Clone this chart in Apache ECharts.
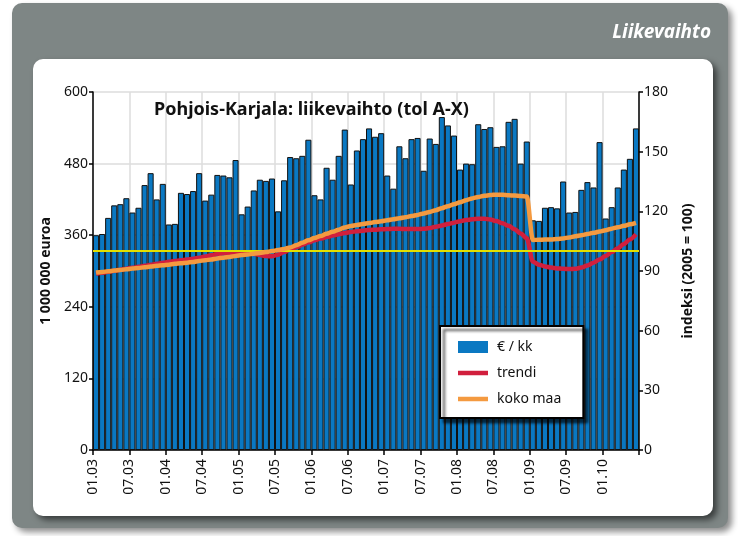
<!DOCTYPE html>
<html>
<head>
<meta charset="utf-8">
<script src="https://cdn.jsdelivr.net/npm/echarts@6/dist/echarts.min.js"></script>
<style>html,body{margin:0;padding:0;background:#fff;}#c{width:738px;height:536px;}</style>
</head>
<body>
<div id="c"></div>
<script>
// ---- data ----
const years = ['03','04','05','06','07','08','09','10'];
const monthNums = ['01','02','03','04','05','06','07','08','09','10','11','12'];
const categories = [];
years.forEach(y => monthNums.forEach(m => categories.push(m + '.' + y)));
categories.length = 90; // 01.03 ... 06.10

const tickLabels = ['01.03','07.03','01.04','07.04','01.05','07.05','01.06','07.06','01.07','07.07','01.08','07.08','01.09','07.09','01.10'];

const euroKk = [
  360, 362, 389, 410, 412, 422, 398, 406, 444, 464, 420, 446,
  378, 379, 431, 429, 434, 464, 418, 428, 461, 460, 457, 486,
  395, 408, 435, 453, 451, 455, 400, 452, 491, 489, 493, 520,
  427, 420, 473, 453, 493, 537, 445, 502, 521, 539, 525, 531,
  460, 438, 509, 489, 521, 523, 468, 522, 513, 558, 544, 527,
  470, 480, 479, 546, 538, 541, 508, 509, 550, 555, 480, 517,
  385, 384, 406, 407, 405, 450, 398, 399, 436, 449, 440, 516,
  388, 407, 440, 470, 488, 539
];

const trendi = [
  88.6, 89.1, 89.6, 90.1, 90.6, 91.1, 91.6, 92.1, 92.6, 93.1, 93.6, 94.1,
  94.6, 95.0, 95.4, 95.8, 96.1, 96.7, 97.3, 97.9, 98.5, 98.9, 99.1, 99.2,
  99.2, 99.0, 98.6, 98.1, 97.5, 97.4, 98.2, 99.5, 100.8, 102.0, 103.2, 104.4,
  105.4, 106.3, 107.1, 107.8, 108.5, 109.1, 109.6, 110.0, 110.3, 110.6, 110.8, 111.0,
  111.1, 111.2, 111.2, 111.1, 111.1, 111.1, 111.2, 111.6, 112.2, 112.9, 113.6, 114.3,
  115.0, 115.6, 116.0, 116.3, 116.3, 115.9, 115.1, 114.0, 112.7, 111.0, 108.8, 106.5,
  94.7, 93.2, 92.3, 91.7, 91.3, 91.1, 91.0, 91.1, 91.7, 92.8, 94.2, 95.8,
  97.6, 99.5, 101.5, 103.6, 105.9, 108.4
];

const kokoMaa = [
  89.2, 89.5, 89.9, 90.2, 90.5, 90.9, 91.2, 91.5, 91.9, 92.2, 92.6, 92.9,
  93.2, 93.6, 93.9, 94.2, 94.5, 95.0, 95.4, 95.8, 96.3, 96.7, 97.1, 97.6,
  98.0, 98.3, 98.7, 99.1, 99.5, 100.0, 100.5, 101.1, 101.8, 103.0, 104.2, 105.4,
  106.6, 107.6, 108.7, 109.7, 110.8, 111.9, 112.6, 113.1, 113.6, 114.1, 114.6, 115.0,
  115.5, 116.0, 116.5, 117.0, 117.6, 118.2, 118.9, 119.7, 120.6, 121.6, 122.6, 123.6,
  124.6, 125.6, 126.5, 127.2, 127.8, 128.2, 128.4, 128.3, 128.1, 127.9, 127.7, 127.5,
  105.6, 105.7, 105.8, 105.9, 106.1, 106.4, 106.9, 107.5, 108.0, 108.6, 109.2, 109.8,
  110.5, 111.3, 112.0, 112.7, 113.5, 114.2
];

const baseLevel = 100; // 2005 = 100 (right axis)

// ---- chart ----
const FONT = '"Noto Sans", "DejaVu Sans", sans-serif';
const chart = echarts.init(document.getElementById('c'), null, {renderer: 'canvas'});

const option = {
  animation: false,
  textStyle: {fontFamily: FONT},
  graphic: [
    {type: 'rect', z: -20, shape: {x: 12, y: 3, width: 716, height: 525, r: 10},
     style: {fill: '#7e8685', shadowColor: 'rgba(0,0,0,0.45)', shadowBlur: 6, shadowOffsetX: 4, shadowOffsetY: 4}},
    {type: 'rect', z: -10, shape: {x: 33, y: 59, width: 680, height: 457, r: 10},
     style: {fill: '#ffffff', shadowColor: 'rgba(0,0,0,0.55)', shadowBlur: 6, shadowOffsetX: 4, shadowOffsetY: 4}},
    {type: 'text', z: -5, x: 711, y: 33,
     style: {text: 'Liikevaihto', fill: '#ffffff', font: 'italic bold 19px ' + FONT, textAlign: 'right', textVerticalAlign: 'middle'}}
  ],
  title: {
    text: 'Pohjois-Karjala: liikevaihto (tol A-X)',
    left: 149, top: 96,
    textStyle: {fontSize: 18, fontWeight: 'bold', color: '#111', fontFamily: FONT}
  },
  legend: {
    orient: 'vertical', left: 440, top: 326,
    backgroundColor: '#fff', borderColor: '#000', borderWidth: 2,
    padding: [14, 22, 12, 18],
    shadowColor: 'rgba(0,0,0,0.7)', shadowBlur: 3, shadowOffsetX: 4, shadowOffsetY: 4,
    itemWidth: 30, itemHeight: 12, itemGap: 12,
    textStyle: {fontSize: 14, color: '#111', fontFamily: FONT, padding: [0, 0, 0, 4]},
    data: [
      {name: '€ / kk', icon: 'rect', itemStyle: {color: '#0a78c2', borderWidth: 0}},
      {name: 'trendi', icon: 'path://M0,0H30V4.5H0Z', itemStyle: {color: '#d11f3d'}},
      {name: 'koko maa', icon: 'path://M0,0H30V4.5H0Z', itemStyle: {color: '#f49a40'}}
    ]
  },
  grid: {left: 93, right: 99, top: 92, bottom: 86},
  xAxis: [
    {
      type: 'category', data: categories, boundaryGap: true,
      axisLine: {show: true, lineStyle: {color: '#000', width: 1.5}},
      axisTick: {show: false}, axisLabel: {show: false}, splitLine: {show: false}
    },
    {
      type: 'value', min: 0, max: 90, interval: 6, position: 'bottom',
      axisLine: {show: false},
      axisTick: {show: true, length: 5, lineStyle: {color: '#000', width: 1.5}},
      axisLabel: {
        show: true, rotate: 90, margin: 9, fontSize: 14, color: '#111', fontFamily: FONT,
        formatter: v => tickLabels[Math.round(v / 6)] || ''
      },
      splitLine: {show: true, lineStyle: {color: '#dcdcdc', width: 1.5}}
    }
  ],
  yAxis: [
    {
      type: 'value', min: 0, max: 600, interval: 120, position: 'left',
      name: '1 000 000 euroa', nameLocation: 'middle', nameGap: 40, nameRotate: 90,
      nameTextStyle: {fontSize: 14, fontWeight: 'bold', color: '#111', fontFamily: FONT},
      axisLine: {show: true, lineStyle: {color: '#000', width: 1.5}},
      axisTick: {show: true, inside: false, length: 4, lineStyle: {color: '#000', width: 1.5}},
      axisLabel: {fontSize: 14, color: '#111', margin: 5, fontFamily: FONT},
      splitLine: {show: true, lineStyle: {color: '#dcdcdc', width: 1.5}}
    },
    {
      type: 'value', min: 0, max: 180, interval: 30, position: 'right',
      name: 'indeksi (2005 = 100)', nameLocation: 'middle', nameGap: 42, nameRotate: 90,
      nameTextStyle: {fontSize: 14, fontWeight: 'bold', color: '#111', fontFamily: FONT},
      axisLine: {show: true, lineStyle: {color: '#000', width: 1.5}},
      axisTick: {show: true, inside: false, length: 4, lineStyle: {color: '#000', width: 1.5}},
      axisLabel: {fontSize: 14, color: '#111', margin: 5, fontFamily: FONT},
      splitLine: {show: false}
    }
  ],
  series: [
    {
      name: '€ / kk', type: 'bar', xAxisIndex: 0, yAxisIndex: 0, data: euroKk,
      barCategoryGap: '0%', z: 2,
      itemStyle: {color: '#0a78c2', borderColor: '#111', borderWidth: 1}
    },
    {
      name: 'base', type: 'line', xAxisIndex: 0, yAxisIndex: 1, data: [],
      z: 3, silent: true,
      markLine: {
        silent: true, symbol: 'none', label: {show: false},
        lineStyle: {color: '#e2e000', width: 2, type: 'solid'},
        data: [{yAxis: baseLevel}]
      }
    },
    {
      name: 'trendi', type: 'line', xAxisIndex: 0, yAxisIndex: 1, data: trendi,
      symbol: 'none', smooth: 0.3, smoothMonotone: 'x', z: 4,
      lineStyle: {color: '#d11f3d', width: 4.5}, itemStyle: {color: '#d11f3d'}
    },
    {
      name: 'koko maa', type: 'line', xAxisIndex: 0, yAxisIndex: 1, data: kokoMaa,
      symbol: 'none', smooth: 0.3, smoothMonotone: 'x', z: 5,
      lineStyle: {color: '#f49a40', width: 4.5}, itemStyle: {color: '#f49a40'}
    }
  ]
};
chart.setOption(option);
</script>
</body>
</html>
